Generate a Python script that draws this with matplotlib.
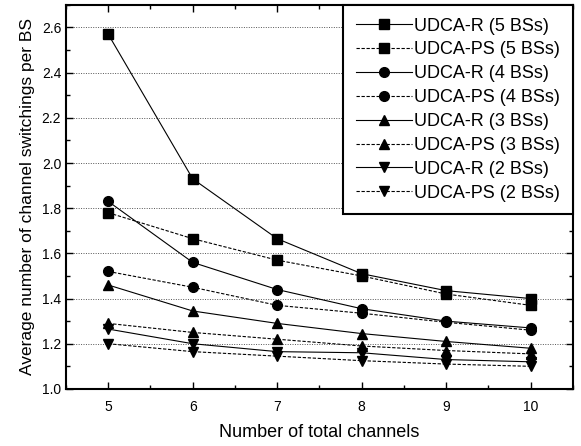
import matplotlib.pyplot as plt
from matplotlib.ticker import MultipleLocator, FormatStrFormatter

plt.rcParams['font.family'] = ['Liberation Sans', 'DejaVu Sans']

channels = [5, 6, 7, 8, 9, 10]

r_5bs = [2.57, 1.93, 1.665, 1.51, 1.435, 1.40]
ps_5bs = [1.78, 1.665, 1.57, 1.50, 1.42, 1.37]
r_4bs = [1.83, 1.56, 1.44, 1.355, 1.30, 1.27]
ps_4bs = [1.52, 1.45, 1.37, 1.335, 1.295, 1.26]
r_3bs = [1.46, 1.345, 1.29, 1.245, 1.21, 1.18]
ps_3bs = [1.29, 1.25, 1.22, 1.19, 1.17, 1.155]
r_2bs = [1.265, 1.20, 1.165, 1.16, 1.13, 1.12]
ps_2bs = [1.20, 1.165, 1.145, 1.125, 1.11, 1.10]

fig = plt.figure(figsize=(5.81, 4.46), dpi=100)
ax = fig.add_axes([0.1136, 0.128, 0.8724, 0.861])

series = [
    (r_5bs, 's', '-', 'UDCA-R (5 BSs)'),
    (ps_5bs, 's', '--', 'UDCA-PS (5 BSs)'),
    (r_4bs, 'o', '-', 'UDCA-R (4 BSs)'),
    (ps_4bs, 'o', '--', 'UDCA-PS (4 BSs)'),
    (r_3bs, '^', '-', 'UDCA-R (3 BSs)'),
    (ps_3bs, '^', '--', 'UDCA-PS (3 BSs)'),
    (r_2bs, 'v', '-', 'UDCA-R (2 BSs)'),
    (ps_2bs, 'v', '--', 'UDCA-PS (2 BSs)'),
]

for vals, mk, ls, lab in series:
    if ls == '--':
        ls = (0, (3, 1.5))
    ax.plot(channels, vals, color='black', linestyle=ls, linewidth=0.8,
            marker=mk, markersize=7, markerfacecolor='black',
            markeredgecolor='black', label=lab)

ax.set_xlim(4.5, 10.5)
ax.set_ylim(1.0, 2.7)
ax.xaxis.set_major_locator(MultipleLocator(1))
ax.xaxis.set_minor_locator(MultipleLocator(0.5))
ax.yaxis.set_major_locator(MultipleLocator(0.2))
ax.yaxis.set_minor_locator(MultipleLocator(0.1))
ax.yaxis.set_major_formatter(FormatStrFormatter('%.1f'))
ax.tick_params(which='both', direction='in', top=True, right=True, labelsize=10)
ax.tick_params(which='major', length=5, width=1)
ax.tick_params(which='minor', length=3, width=1)
ax.tick_params(axis='x', pad=8)
for s in ax.spines.values():
    s.set_linewidth(1.5)

ax.grid(axis='y', which='major', linestyle=(0, (1, 1.5)), color='#555555', linewidth=0.7)

ax.set_xlabel('Number of total channels', fontsize=13, labelpad=7)
ax.set_ylabel('Average number of channel switchings per BS', fontsize=12.5, labelpad=5)

leg = ax.legend(loc='upper right', fontsize=13, handlelength=3.1,
                labelspacing=0.38, borderaxespad=0, fancybox=False,
                framealpha=1, edgecolor='black', borderpad=0.7,
                handletextpad=0.15, markerscale=1.0)
leg.get_frame().set_linewidth(1.5)

fig.savefig('out.png', dpi=100)
